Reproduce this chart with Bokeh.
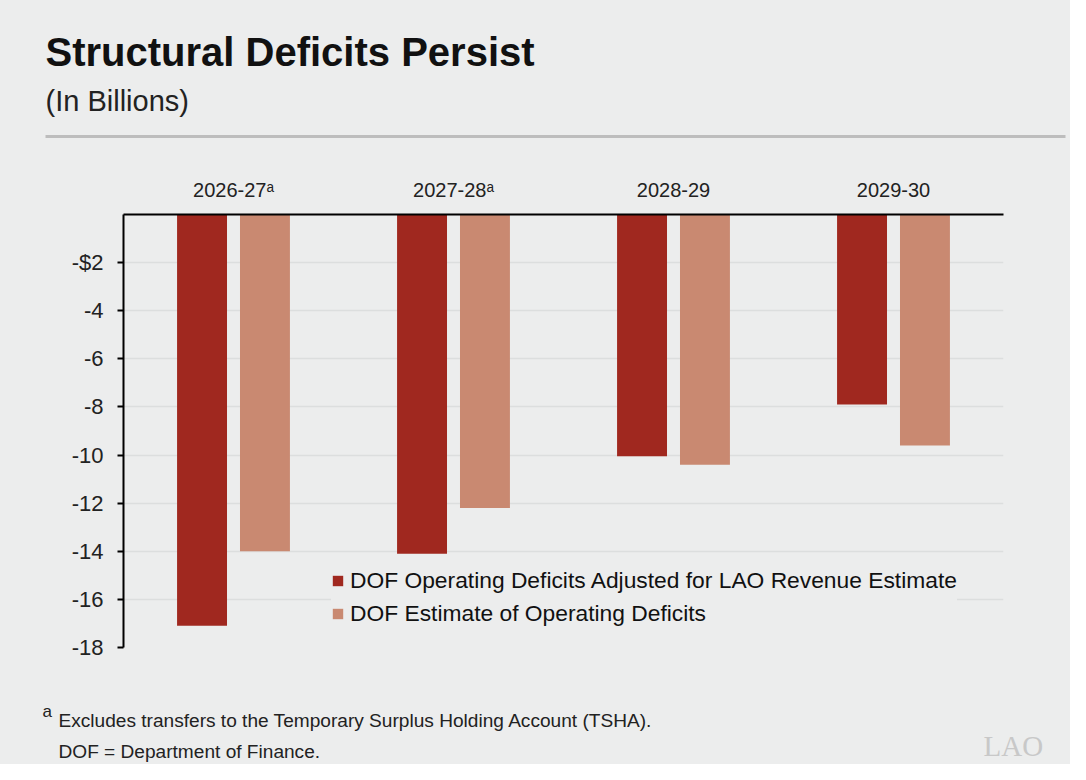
from bokeh.plotting import figure
from bokeh.layouts import column
from bokeh.models import (FactorRange, FixedTicker, Label, Legend, LegendItem,
                          BoxAnnotation, ColumnDataSource, Range1d)
from bokeh.transform import dodge
from bokeh.embed import file_html
from bokeh.resources import INLINE

# ---- data ----
years = ["2026-27ᵃ", "2027-28ᵃ", "2028-29", "2029-30"]
lao_adjusted = [-17.1, -14.1, -10.05, -7.9]
dof_estimate = [-14.0, -12.2, -10.4, -9.6]
series_names = ["DOF Operating Deficits Adjusted for LAO Revenue Estimate",
                "DOF Estimate of Operating Deficits"]
y_ticks = [-2, -4, -6, -8, -10, -12, -14, -16, -18]
y_tick_labels = ["-$2", "-4", "-6", "-8", "-10", "-12", "-14", "-16", "-18"]

title_text = "Structural Deficits Persist"
subtitle_text = "(In Billions)"
footnote_a = "Excludes transfers to the Temporary Surplus Holding Account (TSHA)."
footnote_dof = "DOF = Department of Finance."

# ---- style ----
BG = "#ECEDED"
DARK = "#A0281F"
LIGHT = "#C98971"
FONT = "Liberation Sans"
W = 1070
HEAD_H, MAIN_H, FOOT_H = 150, 540, 74
BGSTYLE = {"background-color": BG}


def text_panel(y0, h):
    f = figure(width=W, height=h, x_range=Range1d(0, W), y_range=Range1d(y0 + h, y0),
               x_axis_type=None, y_axis_type=None, output_backend="svg",
               toolbar_location=None, min_border=0, frame_align=False,
               styles=BGSTYLE)
    f.background_fill_color = BG
    f.border_fill_color = BG
    f.outline_line_color = None
    f.grid.visible = False
    return f


def lab(f, text, x, baseline, size, color="#111111", style="normal", font=FONT):
    # Bokeh draws the alphabetic baseline ~0.38 em below the anchor here
    f.add_layout(Label(x=x, y=baseline - 0.38 * size, text=text, text_font=font,
                       text_font_size=f"{size}px", text_font_style=style,
                       text_color=color, text_baseline="alphabetic",
                       text_align="left"))


# ---- header ----
head = text_panel(0, HEAD_H)
lab(head, title_text, 45, 67, 40, style="bold")
lab(head, subtitle_text, 45, 111.5, 29, color="#222222")
head.add_layout(BoxAnnotation(left=45, right=1065, top=134.5, bottom=137.5,
                              fill_color="#BDBDBD", fill_alpha=1, line_color=None))

# ---- main chart ----
p = figure(width=W, height=MAIN_H, x_range=FactorRange(*years), y_range=(-18, 0),
           x_axis_location="above", output_backend="svg", toolbar_location=None,
           min_border_left=123, min_border_right=W - 1003, min_border_top=214 - HEAD_H,
           min_border_bottom=HEAD_H + MAIN_H - 647, frame_align=False,
           styles=BGSTYLE)
p.background_fill_color = BG
p.border_fill_color = BG
p.outline_line_color = None

src = ColumnDataSource(dict(year=years, lao=lao_adjusted, dof=dof_estimate))
r1 = p.vbar(x=dodge("year", -0.143, range=p.x_range), top=0, bottom="lao",
            width=0.227, source=src, fill_color=DARK, line_color=None)
r2 = p.vbar(x=dodge("year", 0.143, range=p.x_range), top=0, bottom="dof",
            width=0.227, source=src, fill_color=LIGHT, line_color=None)

xa = p.xaxis[0]
xa.axis_line_color = "black"
xa.axis_line_width = 2
xa.major_tick_line_color = None
xa.minor_tick_line_color = None
xa.major_label_text_font = FONT
xa.major_label_text_font_size = "20px"
xa.major_label_text_color = "#222222"
xa.major_label_standoff = 8

ya = p.yaxis[0]
ya.ticker = FixedTicker(ticks=y_ticks)
ya.major_label_overrides = {t: l for t, l in zip(y_ticks, y_tick_labels)}
ya.axis_line_color = "black"
ya.axis_line_width = 2
ya.major_tick_line_color = "black"
ya.major_tick_line_width = 2
ya.major_tick_in = 0
ya.major_tick_out = 6
ya.minor_tick_line_color = None
ya.major_label_text_font = FONT
ya.major_label_text_font_size = "22px"
ya.major_label_text_color = "#222222"
ya.major_label_standoff = 14

p.xgrid.grid_line_color = None
p.ygrid.ticker = FixedTicker(ticks=y_ticks)
p.ygrid.grid_line_color = "#DCDEDE"
p.ygrid.grid_line_width = 1.5

legend = Legend(items=[LegendItem(label=series_names[0], renderers=[r1]),
                       LegendItem(label=series_names[1], renderers=[r2])],
                location=(208, 20), padding=15, margin=0, spacing=6,
                glyph_width=13, glyph_height=13, label_standoff=6,
                label_text_font=FONT, label_text_font_size="22.8px",
                label_text_color="#111111",
                background_fill_color=BG, background_fill_alpha=1,
                border_line_color=None)
p.add_layout(legend)

# ---- footer ----
foot = text_panel(HEAD_H + MAIN_H, FOOT_H)
lab(foot, "a", 42, 717, 17, color="#222222")
lab(foot, footnote_a, 58, 727, 19.1, color="#222222")
lab(foot, footnote_dof, 58, 758, 19.1, color="#222222")
lab(foot, "LAO", 983, 757, 29, color="#C8C8C8", font="Liberation Serif")

layout = column(head, p, foot, spacing=0, styles=BGSTYLE)
open("out.html", "w").write(file_html(layout, INLINE))
